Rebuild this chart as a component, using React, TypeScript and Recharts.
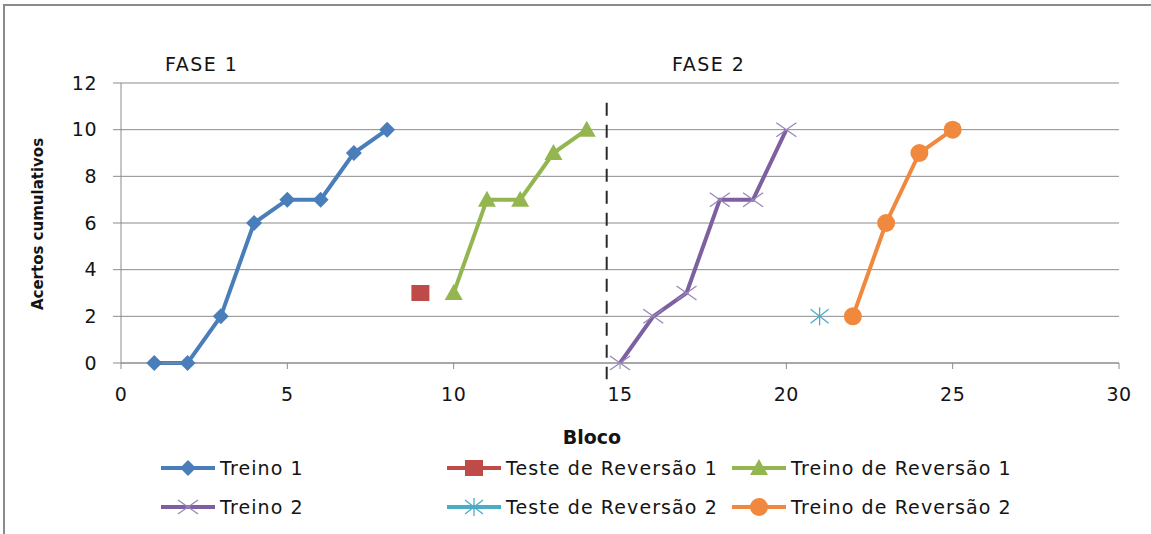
import { LineChart, Line, XAxis, YAxis, CartesianGrid, ReferenceLine } from "recharts";

// Bloco (x) and acertos cumulativos (y) per series
const treino1X = [1, 2, 3, 4, 5, 6, 7, 8];
const treino1Y = [0, 0, 2, 6, 7, 7, 9, 10];
const teste1X = [9];
const teste1Y = [3];
const revTreino1X = [10, 11, 12, 13, 14];
const revTreino1Y = [3, 7, 7, 9, 10];
const treino2X = [15, 16, 17, 18, 19, 20];
const treino2Y = [0, 2, 3, 7, 7, 10];
const teste2X = [21];
const teste2Y = [2];
const revTreino2X = [22, 23, 24, 25];
const revTreino2Y = [2, 6, 9, 10];

const xTicks = [0, 5, 10, 15, 20, 25, 30];
const yTicks = [0, 2, 4, 6, 8, 10, 12];
const phaseSplit = 14.6;

type Shape = "diamond" | "square" | "triangle" | "cross" | "star" | "circle";

const SERIES: { name: string; color: string; shape: Shape; xs: number[]; ys: number[] }[] = [
  { name: "Treino 1", color: "#4A7EBB", shape: "diamond", xs: treino1X, ys: treino1Y },
  { name: "Teste de Reversão 1", color: "#BE4B48", shape: "square", xs: teste1X, ys: teste1Y },
  { name: "Treino de Reversão 1", color: "#93B650", shape: "triangle", xs: revTreino1X, ys: revTreino1Y },
  { name: "Treino 2", color: "#7D60A0", shape: "cross", xs: treino2X, ys: treino2Y },
  { name: "Teste de Reversão 2", color: "#4BACC6", shape: "star", xs: teste2X, ys: teste2Y },
  { name: "Treino de Reversão 2", color: "#F0883E", shape: "circle", xs: revTreino2X, ys: revTreino2Y },
];

const FONT = "'DejaVu Sans', sans-serif";
const INK = "#141414";

function Marker({ shape, color, cx, cy }: { shape: Shape; color: string; cx: number; cy: number }) {
  switch (shape) {
    case "diamond":
      return <polygon points={`${cx},${cy - 8} ${cx + 8},${cy} ${cx},${cy + 8} ${cx - 8},${cy}`} fill={color} />;
    case "square":
      return <rect x={cx - 9} y={cy - 8} width={18} height={16} fill={color} />;
    case "triangle":
      return <polygon points={`${cx},${cy - 9} ${cx + 9},${cy + 7} ${cx - 9},${cy + 7}`} fill={color} />;
    case "cross":
      return (
        <g stroke="#9a86bb" strokeWidth={1.3}>
          <line x1={cx - 10} y1={cy - 7} x2={cx + 10} y2={cy + 7} />
          <line x1={cx - 10} y1={cy + 7} x2={cx + 10} y2={cy - 7} />
        </g>
      );
    case "star":
      return (
        <g stroke={color} strokeWidth={1.3}>
          <line x1={cx - 9} y1={cy - 7} x2={cx + 9} y2={cy + 7} />
          <line x1={cx - 9} y1={cy + 7} x2={cx + 9} y2={cy - 7} />
          <line x1={cx} y1={cy - 9} x2={cx} y2={cy + 9} />
        </g>
      );
    default:
      return <circle cx={cx} cy={cy} r={9} fill={color} />;
  }
}

const legendCols = [161, 447, 732];
const legendRows = [468, 507];

export default function App() {
  return (
    <div style={{ position: "absolute", left: 0, top: 0, width: 1151, height: 534, background: "#fff", fontFamily: FONT }}>
      {/* frame */}
      <div
        style={{
          position: "absolute",
          left: 3,
          top: 4,
          width: 1148,
          height: 530,
          borderTop: "2px solid #8a8a8a",
          borderLeft: "2px solid #8a8a8a",
        }}
      />
      <LineChart width={1151} height={534} margin={{ top: 83, right: 32, bottom: 141, left: 61 }}>
        <CartesianGrid vertical={false} stroke="#8c8c8c" strokeWidth={1} />
        <XAxis
          type="number"
          dataKey="x"
          domain={[0, 30]}
          ticks={xTicks}
          height={30}
          stroke="#8c8c8c"
          tickSize={6}
          tickMargin={19}
          tick={{ fontSize: 19, fill: INK, fontFamily: FONT, letterSpacing: 0.5 }}
          allowDuplicatedCategory={false}
        />
        <YAxis
          type="number"
          domain={[0, 12]}
          ticks={yTicks}
          width={60}
          stroke="#8c8c8c"
          tickSize={8}
          tickMargin={16}
          tick={{ fontSize: 19, fill: INK, fontFamily: FONT, letterSpacing: 0.5 }}
        />
        <ReferenceLine
          segment={[
            { x: phaseSplit, y: 11.15 },
            { x: phaseSplit, y: -0.7 },
          ]}
          stroke="#2a2a2a"
          strokeWidth={2}
          strokeDasharray="13 9"
          ifOverflow="visible"
        />
        {SERIES.map((s) => (
          <Line
            key={s.name}
            name={s.name}
            data={s.xs.map((x, i) => ({ x, y: s.ys[i] }))}
            dataKey="y"
            type="linear"
            stroke={s.color}
            strokeWidth={4}
            isAnimationActive={false}
            dot={(p: any) => <Marker key={`${s.name}-${p.index}`} shape={s.shape} color={s.color} cx={p.cx} cy={p.cy} />}
            activeDot={false}
          />
        ))}
      </LineChart>

      <div style={{ position: "absolute", left: 165, top: 53, fontSize: 19, letterSpacing: 1.5, color: INK }}>FASE 1</div>
      <div style={{ position: "absolute", left: 672, top: 53, fontSize: 19, letterSpacing: 1.5, color: INK }}>FASE 2</div>
      <div
        style={{
          position: "absolute",
          left: 592,
          top: 437,
          transform: "translate(-50%, -50%)",
          fontSize: 19,
          fontWeight: "bold",
          color: INK,
        }}
      >
        Bloco
      </div>
      <div
        style={{
          position: "absolute",
          left: 38,
          top: 224,
          transform: "translate(-50%, -50%) rotate(-90deg)",
          fontSize: 15,
          fontWeight: "bold",
          whiteSpace: "nowrap",
          color: INK,
        }}
      >
        Acertos cumulativos
      </div>

      {SERIES.map((s, i) => {
        const left = legendCols[i % 3];
        const top = legendRows[Math.floor(i / 3)];
        return (
          <div
            key={s.name}
            style={{ position: "absolute", left, top: top - 12, height: 24, display: "flex", alignItems: "center" }}
          >
            <svg width={54} height={24}>
              <line x1={0} y1={12} x2={54} y2={12} stroke={s.color} strokeWidth={4} strokeLinecap="round" />
              <Marker shape={s.shape} color={s.color} cx={27} cy={12} />
            </svg>
            <span style={{ marginLeft: 5, fontSize: 19, letterSpacing: 1.1, color: INK, whiteSpace: "nowrap" }}>
              {s.name}
            </span>
          </div>
        );
      })}
    </div>
  );
}
